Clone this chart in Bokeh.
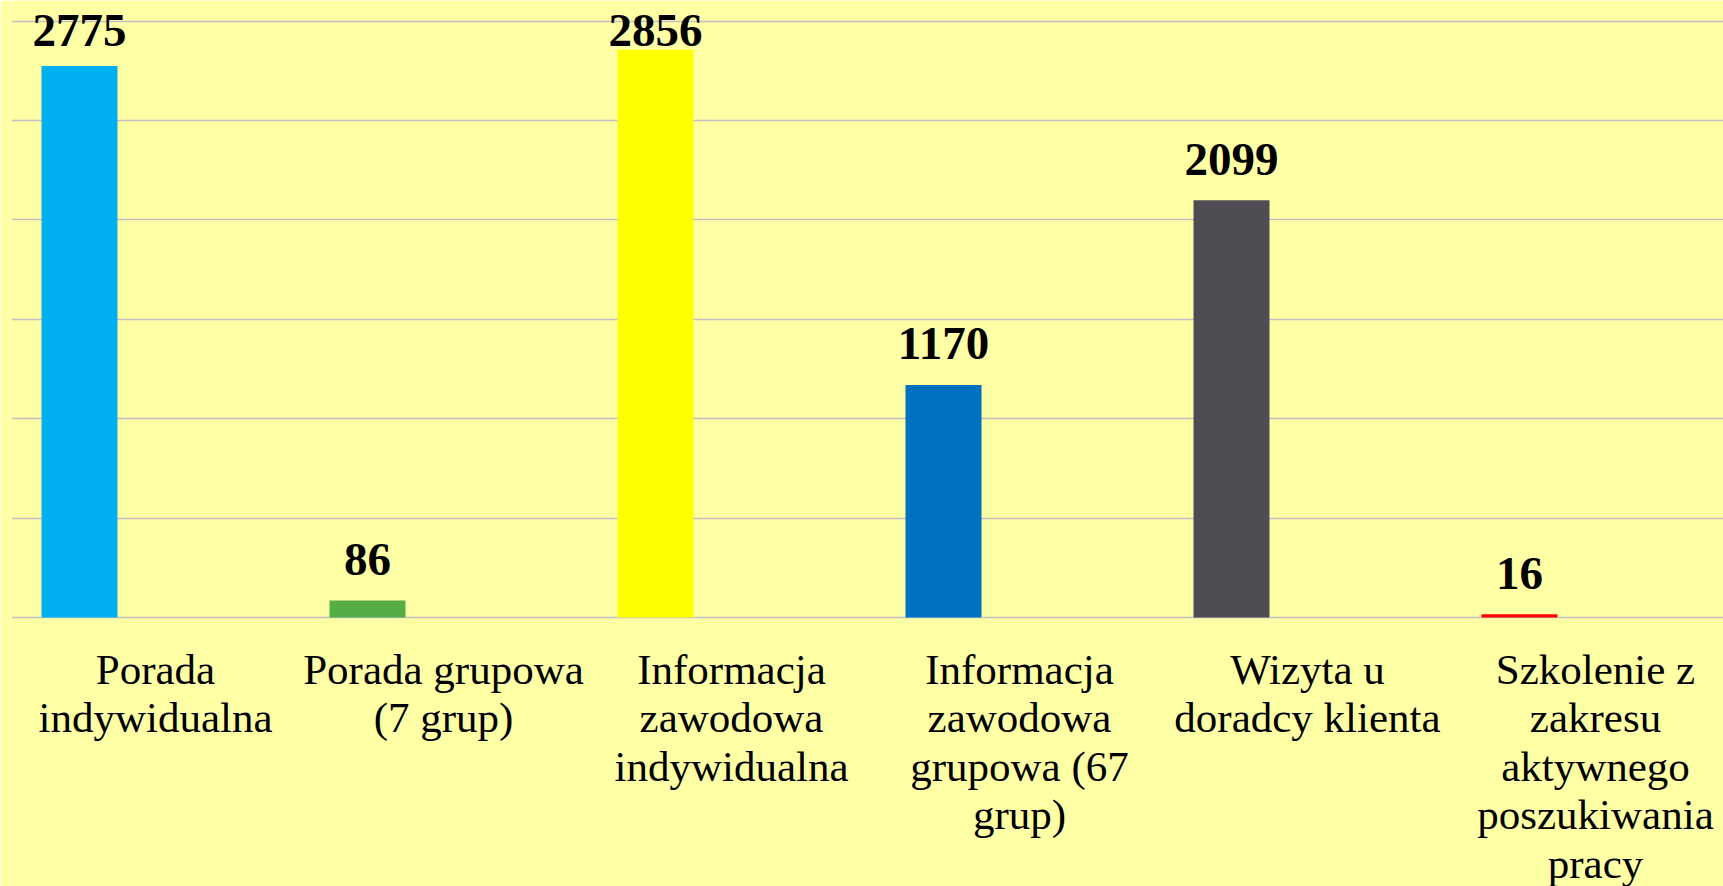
from bokeh.plotting import figure
from bokeh.models import ColumnDataSource, Range1d, Grid, FixedTicker
from bokeh.core.properties import value
from bokeh.embed import file_html
from bokeh.resources import INLINE
import numpy as np

categories = [
    "Porada\nindywidualna",
    "Porada grupowa\n(7 grup)",
    "Informacja\nzawodowa\nindywidualna",
    "Informacja\nzawodowa\ngrupowa (67\ngrup)",
    "Wizyta u\ndoradcy klienta",
    "Szkolenie z\nzakresu\naktywnego\nposzukiwania\npracy",
]
values = [2775, 86, 2856, 1170, 2099, 16]
colors = ["#00B0F0", "#56AC45", "#FFFF00", "#0070C0", "#4F4D53", "#FF0000"]
grid_ticks = [0, 500, 1000, 1500, 2000, 2500, 3000]

BG = "#FFFFA6"
W, H = 1723, 886
LEFT = 11
frame_w = W - LEFT
px_per_cat = 288.0
px_per_unit = 596.3 / 3000.0
base_px = 617

y_top = base_px / px_per_unit
y_bot = -(H - base_px) / px_per_unit

p = figure(width=W, height=H, output_backend="svg", toolbar_location=None,
           x_axis_type=None, y_axis_type=None,
           x_range=Range1d(0, frame_w / px_per_cat),
           y_range=Range1d(y_bot, y_top),
           min_border_left=LEFT, min_border_right=0, min_border_top=0, min_border_bottom=0)
p.background_fill_color = BG
p.border_fill_color = BG
p.outline_line_color = None

p.add_layout(Grid(dimension=1, ticker=FixedTicker(ticks=grid_ticks),
                  grid_line_color="#C2C0C4", grid_line_width=1.6))

n = len(values)
centers = np.arange(n) + 0.5
bw = 76 / px_per_cat
vals = np.array(values, dtype=float)
src = ColumnDataSource(dict(
    x=centers - bw, top=vals, color=colors,
    ly=np.minimum(vals + 41 / px_per_unit, (base_px - 30) / px_per_unit),
    lbl=[str(v) for v in values],
    cx=centers, cy=np.full(n, -28 / px_per_unit), cat=categories,
))

p.vbar(x="x", top="top", bottom=0, width=bw, fill_color="color", line_color=None, source=src)

p.text(x="x", y="ly", text="lbl", source=src, text_align="center", text_baseline="alphabetic",
       text_font=value("Liberation Serif"), text_font_style="bold", text_font_size="47px",
       text_color="black")

p.text(x="cx", y="cy", text="cat", source=src, text_align="center", text_baseline="top",
       text_font=value("Liberation Serif"), text_font_size="43px", text_line_height=1.035,
       text_color="black")

open("out.html", "w").write(file_html(p, INLINE))
